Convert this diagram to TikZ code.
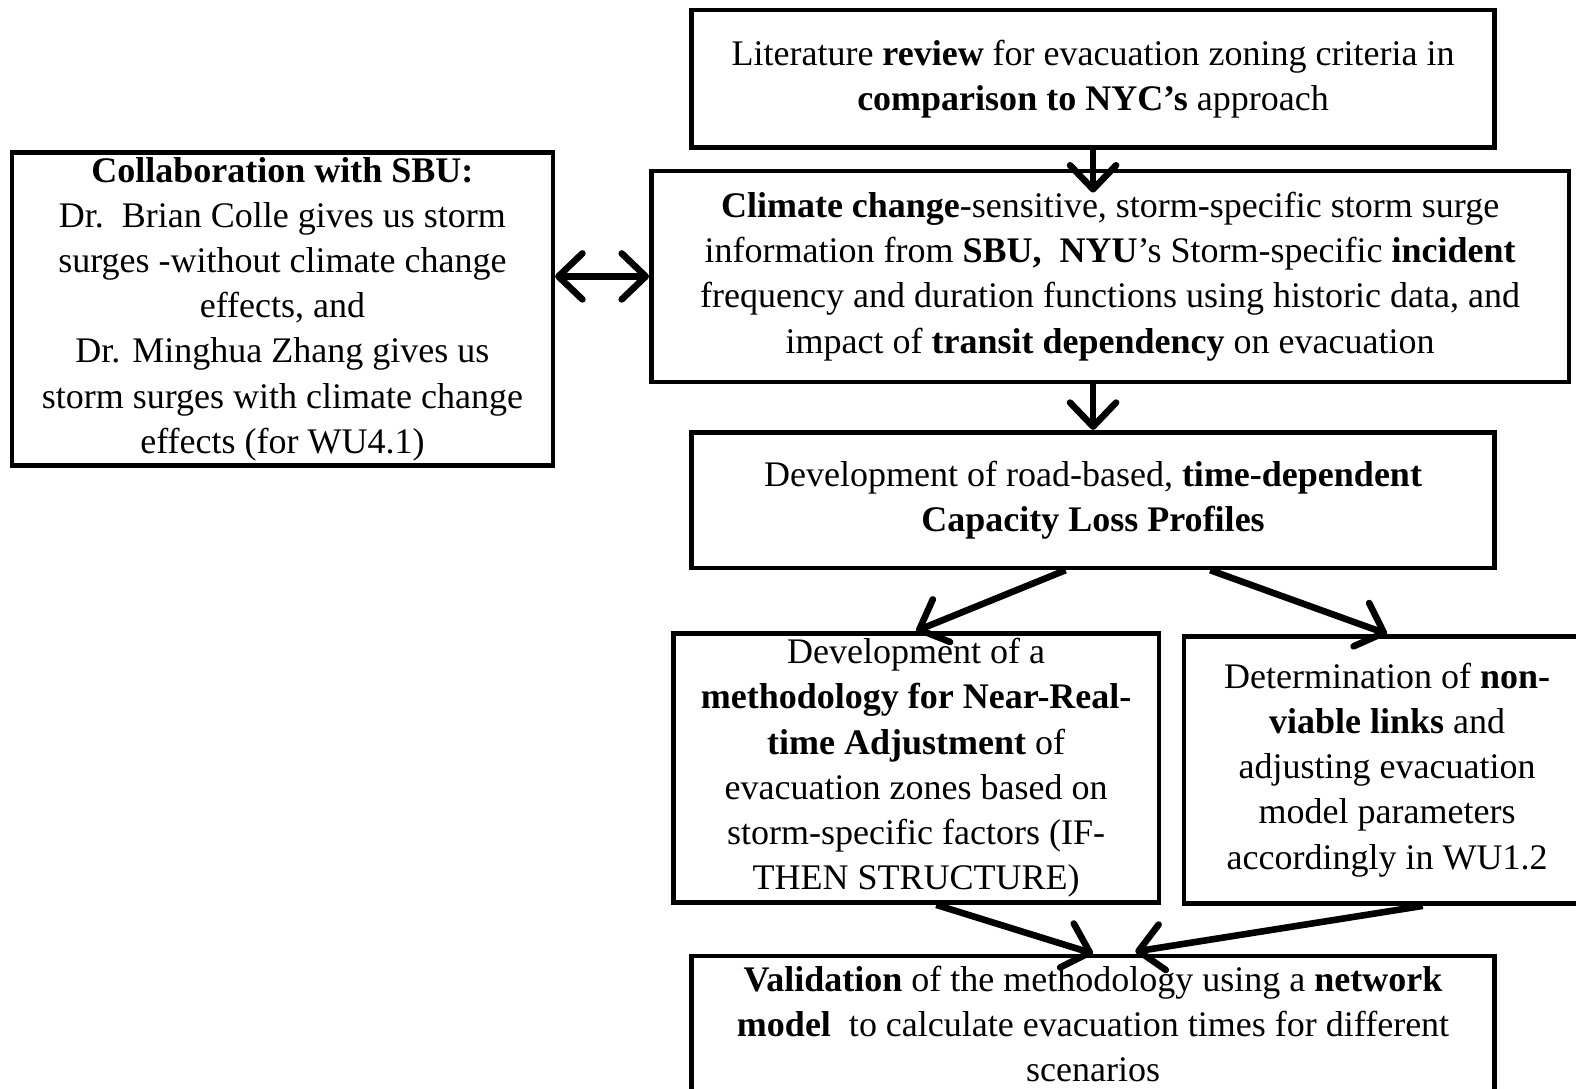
\documentclass[tikz,border=0pt]{standalone}
\usepackage{fontspec}
\setmainfont{Liberation Serif}
\usetikzlibrary{arrows.meta, calc}
\definecolor{darkline}{HTML}{000000}
\def\u{0.5025pt}
\tikzset{
  card/.style={rectangle, draw=darkline, line width=2.3pt, align=center,
               inner sep=0pt, font=\fontsize{18}{22.6}\selectfont},
  flow/.style={-{Straight Barb[length=12pt, width=23pt, round]},
               line width=3.3pt, draw=darkline},
  duo/.style={{Straight Barb[length=12pt, width=23pt, round]}-{Straight Barb[length=12pt, width=23pt, round]},
              line width=3.3pt, draw=darkline},
}

\begin{document}
\begin{tikzpicture}[x=\u, y=-\u]
\useasboundingbox (0,0) rectangle (1568,1083);
\clip (0,0) rectangle (1568,1083);

% Main column
\node[card, minimum width=799*\u, minimum height=137*\u] (lit) at (1087.5,78.5)
  {Literature \textbf{review} for evacuation zoning criteria in\\
   \textbf{comparison to NYC's} approach};
\node[card, minimum width=913*\u, minimum height=210*\u] (surge) at (1104.5,275)
  {\textbf{Climate change}-sensitive, storm-specific storm surge\\
   information from \textbf{SBU,\ \ NYU}'s Storm-specific \textbf{incident}\\
   frequency and duration functions using historic data, and\\
   impact of \textbf{transit dependency} on evacuation};
\node[card, minimum width=799*\u, minimum height=135*\u] (capacity) at (1087.5,497.5)
  {Development of road-based, \textbf{time-dependent}\\
   \textbf{Capacity Loss Profiles}};

% Partner input
\node[card, minimum width=538*\u, minimum height=311*\u] (sbu) at (281,307.5)
  {\textbf{Collaboration with SBU:}\\
   Dr.\ \ Brian Colle gives us storm\\
   surges -without climate change\\
   effects, and\\
   Dr. Minghua Zhang gives us\\
   storm surges with climate change\\
   effects (for WU4.1)};

% Two branches
\node[card, minimum width=483*\u, minimum height=268*\u] (nearreal) at (911.5,764)
  {Development of a\\
   \textbf{methodology for Near-Real-}\\
   \textbf{time Adjustment} of\\
   evacuation zones based on\\
   storm-specific factors (IF-\\
   THEN STRUCTURE)};
\node[card, minimum width=404*\u, minimum height=266*\u] (nonviable) at (1380,766)
  {Determination of \textbf{non-}\\
   \textbf{viable links} and\\
   adjusting evacuation\\
   model parameters\\
   accordingly in WU1.2};

% Output
\node[card, minimum width=799*\u, minimum height=136*\u] (validate) at (1087.5,1019)
  {\textbf{Validation} of the methodology using a \textbf{network}\\
   \textbf{model}\ \ to calculate evacuation times for different\\
   scenarios};

% Flow
\draw[flow, shorten >=-12pt] (lit.south) -- (lit.south |- surge.north);
\draw[flow] (lit.south |- surge.south) -- (lit.south |- capacity.north);
\draw[duo] (sbu.east |- surge.west) -- (surge.west);
\draw[flow] ($(capacity.south west)!0.466!(capacity.south east)$) -- (nearreal.north);
\draw[flow] ($(capacity.south west)!0.645!(capacity.south east)$) -- (nonviable.north);
\draw[flow] ($(nearreal.south)+(20,0)$) -- (validate.north);
\draw[flow] ($(nonviable.south west)!0.587!(nonviable.south east)$) -- ($(validate.north)+(42,-2)$);

\end{tikzpicture}
\end{document}
